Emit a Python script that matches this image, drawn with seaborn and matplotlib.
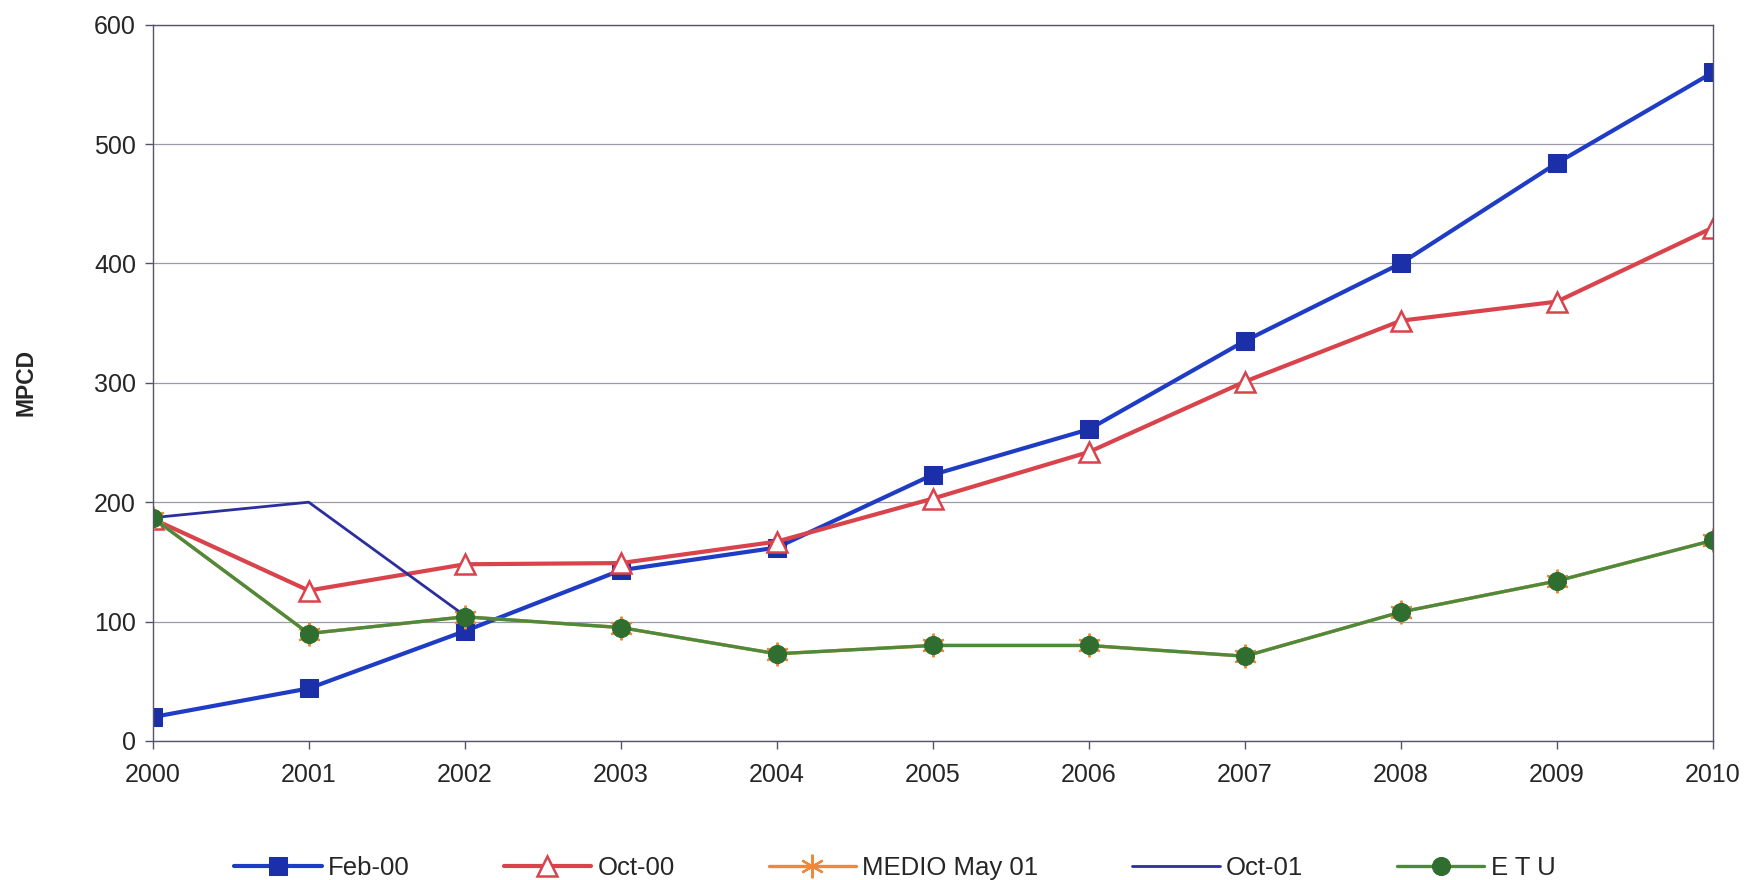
import matplotlib
matplotlib.use("Agg")
import matplotlib.pyplot as plt
import seaborn as sns
import pandas as pd

years = [2000, 2001, 2002, 2003, 2004, 2005, 2006, 2007, 2008, 2009, 2010]
feb_00 = [20, 44, 92, 143, 162, 223, 261, 335, 400, 484, 560]
oct_00 = [186, 126, 148, 149, 167, 203, 242, 301, 352, 368, 430]
medio_may_01 = [187, 90, 104, 95, 73, 80, 80, 71, 108, 134, 168]
oct_01_years = [2000, 2001, 2002]
oct_01 = [187, 200, 105]
etu = [187, 90, 104, 95, 73, 80, 80, 71, 108, 134, 168]

sns.set_style("white")
plt.rcParams["font.family"] = ["Liberation Sans", "DejaVu Sans"]

fig = plt.figure(figsize=(17.55, 8.8), dpi=100)
ax = fig.add_axes([0.087, 0.158, 0.889, 0.814])

series = [
    ("Feb-00", years, feb_00, dict(color="#1f3cc4", lw=3.0, marker="s", ms=13,
                                   mfc="#1a2fa8", mec="#1a2fa8")),
    ("Oct-00", years, oct_00, dict(color="#d9434c", lw=3.0, marker="^", ms=15,
                                   mfc="white", mec="#d9434c", mew=1.8)),
    ("MEDIO May 01", years, medio_may_01, dict(color="#f0883a", lw=2.4, marker=(6, 2, 0),
                                               ms=17, mec="#f0883a", mew=1.6)),
    ("Oct-01", oct_01_years, oct_01, dict(color="#2b2f9e", lw=2.0)),
    ("E T U", years, etu, dict(color="#4e8a3c", lw=2.4, marker="o", ms=13,
                               mfc="#2f6e2f", mec="#2f6e2f")),
]

for name, xs, ys, style in series:
    df = pd.DataFrame({"year": xs, "value": ys})
    sns.lineplot(data=df, x="year", y="value", ax=ax, label=name, **style)

ax.set_xlim(2000, 2010)
ax.set_ylim(0, 600)
ax.set_xticks(years)
ax.set_xticklabels([str(y) for y in years])
ax.set_yticks(range(0, 601, 100))
ax.yaxis.grid(True, color="#9a9aa8", lw=0.9)
ax.xaxis.grid(False)
for side in ["top", "right", "left", "bottom"]:
    ax.spines[side].set_visible(True)
    ax.spines[side].set_color("#55556a")
    ax.spines[side].set_linewidth(1.0)
ax.tick_params(axis="both", which="major", labelsize=18, length=6, width=1,
               color="#55556a", direction="out", bottom=True, left=True)
ax.tick_params(axis="x", pad=10)
ax.tick_params(axis="y", pad=6)
ax.set_xlabel("")
ax.set_ylabel("MPCD", fontsize=16.5, fontweight="bold")
ax.yaxis.set_label_coords(-0.074, 0.5)

handles, labels = ax.get_legend_handles_labels()
ax.legend_.remove()
fig.legend(handles, labels, loc="lower center", bbox_to_anchor=(0.51, -0.026),
           ncol=5, frameon=False, fontsize=18.5, handlelength=3.4,
           handletextpad=0.25, columnspacing=3.65)

fig.savefig("out.png", dpi=100, facecolor="white")
